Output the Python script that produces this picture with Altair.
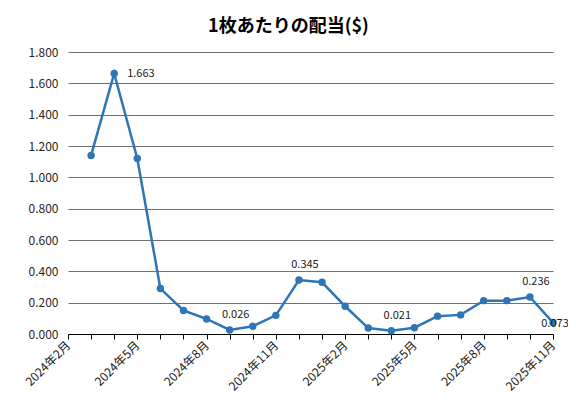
import altair as alt
import pandas as pd

months = ["2024年2月", "2024年3月", "2024年4月", "2024年5月", "2024年6月", "2024年7月",
          "2024年8月", "2024年9月", "2024年10月", "2024年11月", "2024年12月",
          "2025年1月", "2025年2月", "2025年3月", "2025年4月", "2025年5月", "2025年6月",
          "2025年7月", "2025年8月", "2025年9月", "2025年10月", "2025年11月"]
dividend = [None, 1.14, 1.663, 1.12, 0.29, 0.15, 0.096, 0.026, 0.049, 0.119, 0.345,
            0.33, 0.177, 0.038, 0.021, 0.04, 0.114, 0.122, 0.213, 0.213, 0.236, 0.073]
shown_ticks = ["2024年2月", "2024年5月", "2024年8月", "2024年11月",
               "2025年2月", "2025年5月", "2025年8月", "2025年11月"]
y_ticks = [0, 0.2, 0.4, 0.6, 0.8, 1.0, 1.2, 1.4, 1.6, 1.8]
label_above = ["2024年9月", "2024年12月", "2025年4月", "2025年10月"]
label_right = ["2024年4月"]
label_on = ["2025年11月"]

df = pd.DataFrame({"month": months, "value": dividend})

FONT = "Noto Sans CJK JP"
BLUE = "#2E75B6"

shown_js = "[" + ",".join("'" + m + "'" for m in shown_ticks) + "]"

x = alt.X("month:N", sort=months, scale=alt.Scale(type="point", padding=0),
          axis=alt.Axis(title=None, labelAngle=-45, labelAlign="right", labelBaseline="middle",
                        labelExpr=f"indexof({shown_js}, datum.value) >= 0 ? datum.label : ''",
                        labelOverlap=False, labelFont=FONT, labelFontSize=12,
                        labelColor="#1a1a1a", labelPadding=4,
                        domainColor="#000000", tickColor="#000000", tickSize=5,
                        grid=False))
y = alt.Y("value:Q", scale=alt.Scale(domain=[0, 1.8], nice=False),
          axis=alt.Axis(title=None, values=y_ticks, format=".3f", domain=False, ticks=False,
                        gridColor="#707070", gridWidth=1, labelFont=FONT, labelFontSize=12,
                        labelColor="#262626", labelPadding=10))

base = alt.Chart(df).encode(x=x, y=y)

line = base.mark_line(color=BLUE, strokeWidth=2.5)
pts = base.mark_circle(color=BLUE, size=55, opacity=1)

txt_kw = dict(font=FONT, fontSize=11, color="#1a1a1a")
t_above = base.transform_filter(alt.FieldOneOfPredicate(field="month", oneOf=label_above)).mark_text(
    dx=6, dy=-15, **txt_kw).encode(text=alt.Text("value:Q", format=".3f"))
t_right = base.transform_filter(alt.FieldOneOfPredicate(field="month", oneOf=label_right)).mark_text(
    align="left", dx=13, dy=1, **txt_kw).encode(text=alt.Text("value:Q", format=".3f"))
t_on = base.transform_filter(alt.FieldOneOfPredicate(field="month", oneOf=label_on)).mark_text(
    dx=2, dy=1, **txt_kw).encode(text=alt.Text("value:Q", format=".3f"))

chart = alt.layer(line, pts, t_above, t_right, t_on).properties(
    width=485, height=282,
    autosize="none",
    padding={"left": 60, "top": 44, "right": 15, "bottom": 74},
    title=alt.TitleParams("1枚あたりの配当($)", font=FONT, fontSize=18, fontWeight="bold",
                          color="#000000", anchor="middle", dx=-22, offset=10),
    background="white",
).configure_view(stroke=None)

chart.save("out.html", embed_options={"renderer": "svg", "actions": False})
